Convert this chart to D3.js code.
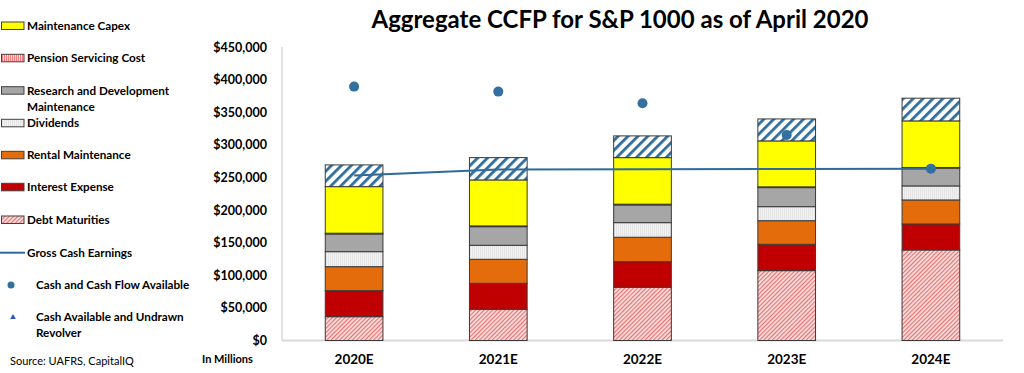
<!DOCTYPE html>
<html><head><meta charset="utf-8">
<script src="https://cdn.jsdelivr.net/npm/d3@7"></script>
<style>body{margin:0;background:#fff}svg{display:block}</style>
</head><body><svg id="c" width="1024" height="373"></svg>
<script>
const categories = ["2020E","2021E","2022E","2023E","2024E"];
const debtMaturities   = [36500, 47900, 81600, 107100, 138800];
const interestExpense  = [39900, 39800, 39300, 40400, 39900];
const rentalMaintenance= [36800, 36800, 37400, 36200, 36800];
const dividends        = [23000, 21500, 22400, 21500, 21500];
const rdMaintenance    = [27100, 28500, 27100, 29200, 27100];
const pensionServicing = [1200, 1200, 1200, 1200, 1200];
const maintenanceCapex = [71400, 70500, 71400, 70400, 71400];
const otherObligations = [33300, 34200, 33300, 33700, 34800];
const grossCashEarnings = [252800, 262000, 262600, 263000, 263500];
const cashAndCashFlowAvailable = [389300, 381600, 363800, 315200, 263500];
const yTicks = [0,50000,100000,150000,200000,250000,300000,350000,400000,450000];
const legendLabels = ["Maintenance Capex","Pension Servicing Cost",["Research and Development","Maintenance"],"Dividends","Rental Maintenance","Interest Expense","Debt Maturities","Gross Cash Earnings","Cash and Cash Flow Available",["Cash Available and Undrawn","Revolver"]];

const svg = d3.select("#c");
const FONT = "Lato, 'Open Sans', sans-serif";
const defs = svg.append("defs");
function diag(id, bg, fg, size, w){
  const p = defs.append("pattern").attr("id",id).attr("patternUnits","userSpaceOnUse")
    .attr("width",size).attr("height",size).attr("patternTransform","rotate(45)");
  p.append("rect").attr("width",size).attr("height",size).attr("fill",bg);
  p.append("rect").attr("width",w).attr("height",size).attr("fill",fg);
}
function vert(id, bg, fg, size, w){
  const p = defs.append("pattern").attr("id",id).attr("patternUnits","userSpaceOnUse")
    .attr("width",size).attr("height",size);
  p.append("rect").attr("width",size).attr("height",size).attr("fill",bg);
  p.append("rect").attr("width",w).attr("height",size).attr("fill",fg);
}
diag("pDebt","#fbe3e3","#e8706e",3,1.2);
diag("pOther","#ffffff","#2f6e9c",7,2.8);
vert("pDiv","#f2f2f2","#dcdcdc",2,0.6);
vert("pPension","#ffd0d0","#f08080",2,1);

const keys = ["debt","interest","rental","div","rd","pension","capex","other"];
const fills = {debt:"url(#pDebt)",interest:"#c00000",rental:"#e46c0a",div:"url(#pDiv)",rd:"#a6a6a6",pension:"url(#pPension)",capex:"#ffff00",other:"url(#pOther)"};
const rows = categories.map((c,i)=>({cat:c,debt:debtMaturities[i],interest:interestExpense[i],rental:rentalMaintenance[i],div:dividends[i],rd:rdMaintenance[i],pension:pensionServicing[i],capex:maintenanceCapex[i],other:otherObligations[i]}));
const stacked = d3.stack().keys(keys)(rows);

const x = d3.scaleBand().domain(categories).range([282,1003]).paddingInner(0.6).paddingOuter(0.3);
const y = d3.scaleLinear().domain([0,450000]).range([340.5,47]);

svg.append("line").attr("x1",282).attr("x2",282).attr("y1",y(450000)).attr("y2",y(0)).attr("stroke","#d9d9d9").attr("stroke-width",1.5);
svg.append("line").attr("x1",282).attr("x2",1003).attr("y1",y(0)).attr("y2",y(0)).attr("stroke","#d9d9d9").attr("stroke-width",2);

const yAxis = d3.axisLeft(y).tickValues(yTicks).tickSize(0).tickPadding(0).tickFormat(d=>"$"+d3.format(",")(d));
const ga = svg.append("g").attr("transform","translate(267,0)").call(yAxis);
ga.select(".domain").remove();
ga.selectAll("text").attr("font-family",FONT).attr("font-weight","bold").attr("font-size",12.5).attr("fill","#000");

const xAxis = d3.axisBottom(x).tickSize(0).tickPadding(0);
const gx = svg.append("g").attr("transform","translate(0,354)").call(xAxis);
gx.select(".domain").remove();
gx.selectAll("text").attr("font-family",FONT).attr("font-weight","bold").attr("font-size",13.5).attr("fill","#000");
svg.append("text").attr("x",202).attr("y",363).attr("font-family",FONT).attr("font-weight","bold").attr("font-size",11).text("In Millions");

stacked.forEach(s=>{
  svg.append("g").selectAll("rect").data(s).join("rect")
    .attr("x",d=>x(d.data.cat)).attr("width",x.bandwidth())
    .attr("y",d=>y(d[1])).attr("height",d=>y(d[0])-y(d[1]))
    .attr("fill",fills[s.key]).attr("stroke","#3a3a3a").attr("stroke-width",1);
});

const line = d3.line().x((d,i)=>x(categories[i])+x.bandwidth()/2).y(d=>y(d));
svg.append("path").datum(grossCashEarnings).attr("d",line).attr("fill","none").attr("stroke","#2f6a9a").attr("stroke-width",2);
svg.append("g").selectAll("circle").data(cashAndCashFlowAvailable).join("circle")
  .attr("cx",(d,i)=>x(categories[i])+x.bandwidth()/2).attr("cy",d=>y(d)).attr("r",5).attr("fill","#31709f");

svg.append("text").attr("x",620).attr("y",28).attr("text-anchor","middle").attr("font-family",FONT).attr("font-weight","bold").attr("font-size",24).text("Aggregate CCFP for S&P 1000 as of April 2020");

const lg = svg.append("g");
const legY = [26,58.3,90.7,123.3,155.3,187.3,220,252.7,285,317.3];
const swFill = ["#ffff00","url(#pPension)","#a6a6a6","url(#pDiv)","#e46c0a","#c00000","url(#pDebt)"];
legendLabels.forEach((lab,i)=>{
  const cy = legY[i];
  let tx = 27;
  if(i<7){
    lg.append("rect").attr("x",1.5).attr("y",cy-4).attr("width",22.5).attr("height",7.5).attr("fill",swFill[i]).attr("stroke","#404040").attr("stroke-width",1);
  } else if(i===7){
    lg.append("line").attr("x1",0).attr("x2",25).attr("y1",cy).attr("y2",cy).attr("stroke","#2f6a9a").attr("stroke-width",2);
  } else if(i===8){
    lg.append("circle").attr("cx",11).attr("cy",cy).attr("r",3.5).attr("fill","#31709f");
    tx = 36;
  } else {
    lg.append("path").attr("d",d3.symbol(d3.symbolTriangle,14)()).attr("transform",`translate(13,${cy})`).attr("fill","#2f55c0");
    tx = 36;
  }
  const lines = Array.isArray(lab)?lab:[lab];
  lines.forEach((t,j)=>{
    lg.append("text").attr("x",tx).attr("y",cy+j*16+4).attr("font-family",FONT).attr("font-weight","bold").attr("font-size",11.7).attr("fill","#000").text(t);
  });
});
svg.append("text").attr("x",10).attr("y",365).attr("font-family",FONT).attr("font-size",11).attr("fill","#000").text("Source: UAFRS, CapitalIQ");
</script></body></html>
